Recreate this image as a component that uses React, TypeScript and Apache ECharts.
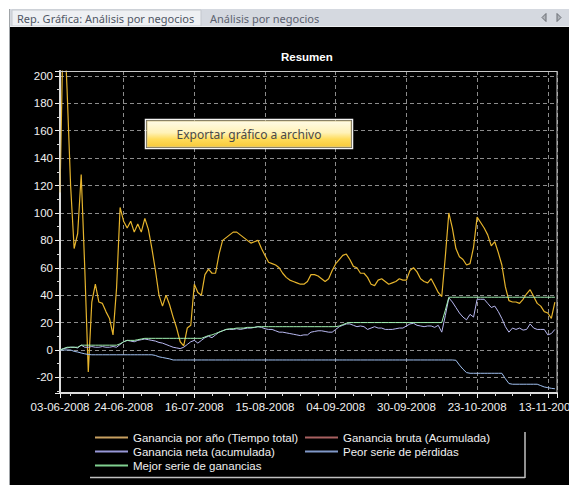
import React, { useEffect, useRef } from 'react';
import * as echarts from 'echarts';

// x position (trade index) of the first point; labels every labelStep points
const firstIndex = 2;
const lastIndex = 142.6;
const labelStep = 20;
const xTickLabels = ['03-06-2008', '24-06-2008', '16-07-2008', '15-08-2008', '04-09-2008', '30-09-2008', '23-10-2008', '13-11-2008'];

const seriesNames = [
  'Ganancia por año (Tiempo total)',
  'Ganancia bruta (Acumulada)',
  'Ganancia neta (acumulada)',
  'Peor serie de pérdidas',
  'Mejor serie de ganancias',
];

const gananciaPorAno = [
  115, 250, 190, 120, 74, 85, 128, 60, -16, 35,
  48, 35, 34, 28, 23, 11, 45, 104, 94, 89,
  94, 86, 92, 86, 96, 88, 74, 58, 40, 32,
  40, 33, 24, 16, 6, 3, 16, 18, 48, 42,
  40, 55, 59, 56, 56, 70, 80, 82, 84, 86,
  86, 84, 82, 80, 78, 79, 80, 74, 69, 64,
  63, 62, 60, 56, 53, 51, 50, 49, 48, 48,
  50, 55, 55, 54, 52, 50, 52, 58, 63, 66,
  69, 70, 66, 61, 60, 56, 56, 53, 48, 47,
  51, 52, 50, 48, 49, 50, 52, 51, 51, 58,
  60, 57, 52, 50, 49, 52, 47, 42, 39, 68,
  100, 89, 74, 68, 66, 62, 63, 75, 97, 93,
  89, 84, 76, 79, 71, 62, 46, 36, 35, 35,
  34, 37, 41, 44, 39, 34, 32, 28, 27, 23,
  35,
];

const gananciaBruta: number[] = [];

const gananciaNeta = [
  0, 1, 1.5, 2, 2, 1.5, 3.5, 2, 2, 2.5,
  2, 2, 2.5, 2, 2, 2.5, 2, 4, 6, 7,
  6.5, 6, 7, 7.5, 8, 7.5, 7, 6.5, 5.5, 5,
  4, 3, 2, 1.5, 1, 2, 4, 6, 7, 5,
  7, 9, 10, 9, 11, 13, 14, 15, 15, 15,
  15.5, 15, 15.5, 16, 16, 16.5, 17, 16.5, 15.5, 15,
  15, 14, 13, 13, 12.5, 12, 11.5, 11, 10.5, 11,
  11, 13, 13.5, 14, 14, 13.5, 13, 13, 15, 17,
  18, 19, 19, 18, 17, 17.5, 17, 15, 16, 17,
  16, 16, 15, 15, 15, 15.5, 16, 16, 17.5, 19,
  19.5, 18, 17.5, 17, 17.5, 17.5, 16.5, 18, 13, 25,
  38, 35, 31, 27, 24, 22, 26, 24, 37, 37,
  37, 34, 31, 32, 28, 23, 17, 13, 16, 15,
  16, 14.5, 15, 19, 16, 15, 15, 15, 11, 12,
  15,
];

const peorSerie = [
  0, 0, 0, 0, -1, -1.5, -2.2, -2.8, -3.3, -3.5,
  -3.5, -3.5, -3.5, -3.5, -3.5, -3.5, -3.5, -3.5, -3.5, -3.5,
  -3.5, -3.5, -3.5, -3.5, -3.5, -3.5, -3.5, -4, -5, -5.5,
  -6, -6.5, -7.3, -7.3, -7.3, -7.3, -7.3, -7.3, -7.3, -7.3,
  -7.3, -7.3, -7.3, -7.3, -7.3, -7.3, -7.3, -7.3, -7.3, -7.3,
  -7.3, -7.3, -7.3, -7.3, -7.3, -7.3, -7.3, -7.3, -7.3, -7.3,
  -7.3, -7.3, -7.3, -7.3, -7.3, -7.3, -7.3, -7.3, -7.3, -7.3,
  -7.3, -7.3, -7.3, -7.3, -7.3, -7.3, -7.3, -7.3, -7.3, -7.3,
  -7.3, -7.3, -7.3, -7.3, -7.3, -7.3, -7.3, -7.3, -7.3, -7.3,
  -7.3, -7.3, -7.3, -7.3, -7.3, -7.3, -7.3, -7.3, -7.3, -7.3,
  -7.3, -7.3, -7.3, -7.3, -7.3, -7.3, -7.3, -7.3, -7.3, -7.3,
  -7.3, -7.3, -7.5, -11, -14, -16.5, -17, -17, -17, -17,
  -17, -17, -17, -17, -17, -17, -21, -24.5, -25, -25,
  -25, -25, -25, -25, -25, -25, -26, -27, -27.5, -28,
  -28.3,
];

const mejorSerie = [
  0, 1, 2, 2, 2, 2, 3.5, 3.5, 3.5, 3.5,
  3.5, 3.5, 3.5, 3.5, 3.5, 3.5, 3.5, 4.5, 6, 7,
  7, 7, 7.5, 8, 8.5, 8.5, 8.5, 8.5, 8.5, 8.5,
  8.5, 8.5, 8.5, 8.5, 8.5, 8.5, 8.5, 8.5, 8.5, 8.5,
  8.5, 9.5, 10.5, 11, 12, 13, 14, 15, 15.5, 15.5,
  16, 16, 16, 16.5, 16.5, 16.5, 17, 17, 17, 17,
  17, 17, 17, 17, 17, 17, 17, 17, 17, 17,
  17, 17, 17, 17, 17, 17, 17, 17, 17, 17.5,
  18.5, 19.5, 20, 20, 20, 20, 20, 20, 20, 20,
  20, 20, 20, 20, 20, 20, 20, 20, 20, 20,
  20, 20, 20, 20, 20, 20, 20, 20, 20, 29,
  38.5, 38.5, 38.5, 38.5, 38.5, 38.5, 38.5, 38.5, 38.5, 38.5,
  38.5, 38.5, 38.5, 38.5, 38.5, 38.5, 38.5, 38.5, 38.5, 38.5,
  38.5, 38.5, 38.5, 38.5, 38.5, 38.5, 38.5, 38.5, 38.5, 38.5,
  38.5,
];

const yMin = -31.4;
const yMax = 203.6;

const F = "'Liberation Sans', Arial, sans-serif";
const UI = "'Noto Sans', 'Open Sans', sans-serif";

const toPairs = (arr: number[]) => arr.map((v, i) => [firstIndex + i, v]);

const lineSeries = (name: string, data: number[], lineColor: string, legendColor: string, width = 1) => ({
  name,
  type: 'line',
  data: toPairs(data),
  symbol: 'none',
  showSymbol: false,
  lineStyle: { color: lineColor, width },
  itemStyle: { color: legendColor },
  emphasis: { disabled: true },
});

export default function App() {
  const ref = useRef<HTMLDivElement>(null);
  useEffect(() => {
    const chart = echarts.init(ref.current!, null, { renderer: 'svg' });
    const legendCommon = {
      orient: 'vertical',
      padding: 0,
      itemGap: 1,
      itemWidth: 33,
      itemHeight: 2,
      icon: 'rect',
      selectedMode: false,
      textStyle: { color: '#f0f0f0', fontSize: 11.5, fontFamily: F, lineHeight: 13 },
    };
    chart.setOption({
      animation: false,
      backgroundColor: '#000000',
      title: {
        text: 'Resumen',
        left: 281,
        top: 51,
        padding: 0,
        textStyle: { color: '#ffffff', fontSize: 11.5, fontWeight: 'bold', fontFamily: F },
      },
      legend: [
        { ...legendCommon, left: 95, top: 431, data: [seriesNames[0], seriesNames[2], seriesNames[4]] },
        { ...legendCommon, left: 305, top: 431, data: [seriesNames[1], seriesNames[3]] },
      ],
      grid: { left: 60, right: 12, top: 71, bottom: 92, show: false, containLabel: false, outerBoundsMode: 'none' },
      xAxis: {
        type: 'value',
        min: firstIndex,
        max: lastIndex,
        splitNumber: 7,
        axisLine: { show: true, onZero: false, lineStyle: { color: '#f0f0f0', width: 2 } },
        axisTick: { show: true, length: 5, lineStyle: { color: '#f0f0f0' } },
        minorTick: { show: true, splitNumber: 4, length: 3, lineStyle: { color: '#d8d8d8' } },
        axisLabel: {
          color: '#f0f0f0',
          fontSize: 11.5,
          fontFamily: F,
          margin: 8,
          showMinLabel: true,
          showMaxLabel: false,
          hideOverlap: false,
          formatter: (v: number) => {
            if (Math.abs(v - firstIndex) < 1e-6) return xTickLabels[0];
            const k = v / labelStep;
            return Number.isInteger(k) && xTickLabels[k] ? xTickLabels[k] : '';
          },
        },
        splitLine: { show: true, lineStyle: { color: '#8c8c8c', type: [4, 3], width: 1 } },
      },
      yAxis: {
        type: 'value',
        min: yMin,
        max: yMax,
        splitNumber: 12,
        axisLine: { show: true, onZero: false, lineStyle: { color: '#f0f0f0', width: 2 } },
        axisTick: { show: true, length: 5, lineStyle: { color: '#f0f0f0' } },
        minorTick: { show: true, splitNumber: 2, length: 3, lineStyle: { color: '#d8d8d8' } },
        axisLabel: {
          color: '#f0f0f0',
          fontSize: 11.5,
          fontFamily: F,
          margin: 7,
          showMinLabel: false,
          showMaxLabel: false,
        },
        splitLine: { show: true, lineStyle: { color: '#8c8c8c', type: [4, 3], width: 1 } },
      },
      series: [
        lineSeries(seriesNames[0], gananciaPorAno, '#e6b42c', '#c8a060', 1.2),
        lineSeries(seriesNames[1], gananciaBruta, '#b06060', '#a86060'),
        lineSeries(seriesNames[2], gananciaNeta, '#b8b8f0', '#9898d8'),
        lineSeries(seriesNames[3], peorSerie, '#a0c0f0', '#8098c8'),
        lineSeries(seriesNames[4], mejorSerie, '#a0f0b0', '#80d090'),
      ],
      graphic: [
        // window chrome
        { type: 'rect', silent: true, z: 1, shape: { x: 0, y: 0, width: 569, height: 9 }, style: { fill: '#ffffff' } },
        { type: 'rect', silent: true, z: 1, shape: { x: 0, y: 0, width: 9, height: 485 }, style: { fill: '#ffffff' } },
        { type: 'line', silent: true, z: 2, shape: { x1: 9.5, y1: 9, x2: 9.5, y2: 485 }, style: { stroke: '#a0a4a8', lineWidth: 1 } },
        { type: 'rect', silent: true, z: 1, shape: { x: 10, y: 9, width: 559, height: 17 }, style: { fill: '#d5d9e0' } },
        { type: 'rect', silent: true, z: 2, shape: { x: 12, y: 10, width: 189, height: 16 }, style: { fill: '#eef0f3', stroke: '#c4c8ce', lineWidth: 1 } },
        { type: 'line', silent: true, z: 2, shape: { x1: 10, y1: 26.5, x2: 569, y2: 26.5 }, style: { stroke: '#eceef0', lineWidth: 1 } },
        { type: 'text', silent: true, z: 3, x: 17, y: 18, style: { text: 'Rep. Gráfica: Análisis por negocios', fill: '#4f5664', font: `11px ${UI}`, verticalAlign: 'middle' } },
        { type: 'text', silent: true, z: 3, x: 210, y: 18, style: { text: 'Análisis por negocios', fill: '#5c6270', font: `11px ${UI}`, verticalAlign: 'middle' } },
        { type: 'polygon', silent: true, z: 3, shape: { points: [[546, 13.5], [546, 21.5], [542, 17.5]] }, style: { fill: '#b0b4ba', stroke: '#6a6e74', lineWidth: 1 } },
        { type: 'polygon', silent: true, z: 3, shape: { points: [[557, 13.5], [557, 21.5], [561, 17.5]] }, style: { fill: '#b0b4ba', stroke: '#6a6e74', lineWidth: 1 } },
        // plot frame (top/right)
        { type: 'rect', silent: true, z: 50, shape: { x: 60, y: 71.5, width: 497, height: 321.5 }, style: { fill: 'none', stroke: '#c8c8c8', lineWidth: 1 } },
        // export button
        {
          type: 'rect', silent: true, z: 60,
          shape: { x: 145.5, y: 119.5, width: 207, height: 29 },
          style: { fill: 'none', stroke: '#f4f4f4', lineWidth: 1.5 },
        },
        {
          type: 'rect', silent: true, z: 60,
          shape: { x: 147, y: 121, width: 204, height: 26 },
          style: {
            fill: new echarts.graphic.LinearGradient(0, 0, 0, 1, [
              { offset: 0, color: '#fffbe6' },
              { offset: 0.45, color: '#fff2b8' },
              { offset: 0.7, color: '#ffdc5a' },
              { offset: 1, color: '#f7c93a' },
            ]),
            stroke: '#d8c890', lineWidth: 1,
          },
        },
        { type: 'text', silent: true, z: 61, x: 249, y: 134.5, style: { text: 'Exportar gráfico a archivo', fill: '#4a4a4a', font: `12px ${UI}`, align: 'center', verticalAlign: 'middle' } },
        // legend box borders
        { type: 'line', silent: true, z: 50, shape: { x1: 90, y1: 477.5, x2: 525, y2: 477.5 }, style: { stroke: '#c0c0c0', lineWidth: 1.5 } },
        { type: 'line', silent: true, z: 50, shape: { x1: 525, y1: 432, x2: 525, y2: 478 }, style: { stroke: '#c0c0c0', lineWidth: 1.5 } },
      ],
    });
    return () => chart.dispose();
  }, []);
  return <div ref={ref} style={{ position: 'fixed', left: 0, top: 0, width: 569, height: 485 }} />;
}
